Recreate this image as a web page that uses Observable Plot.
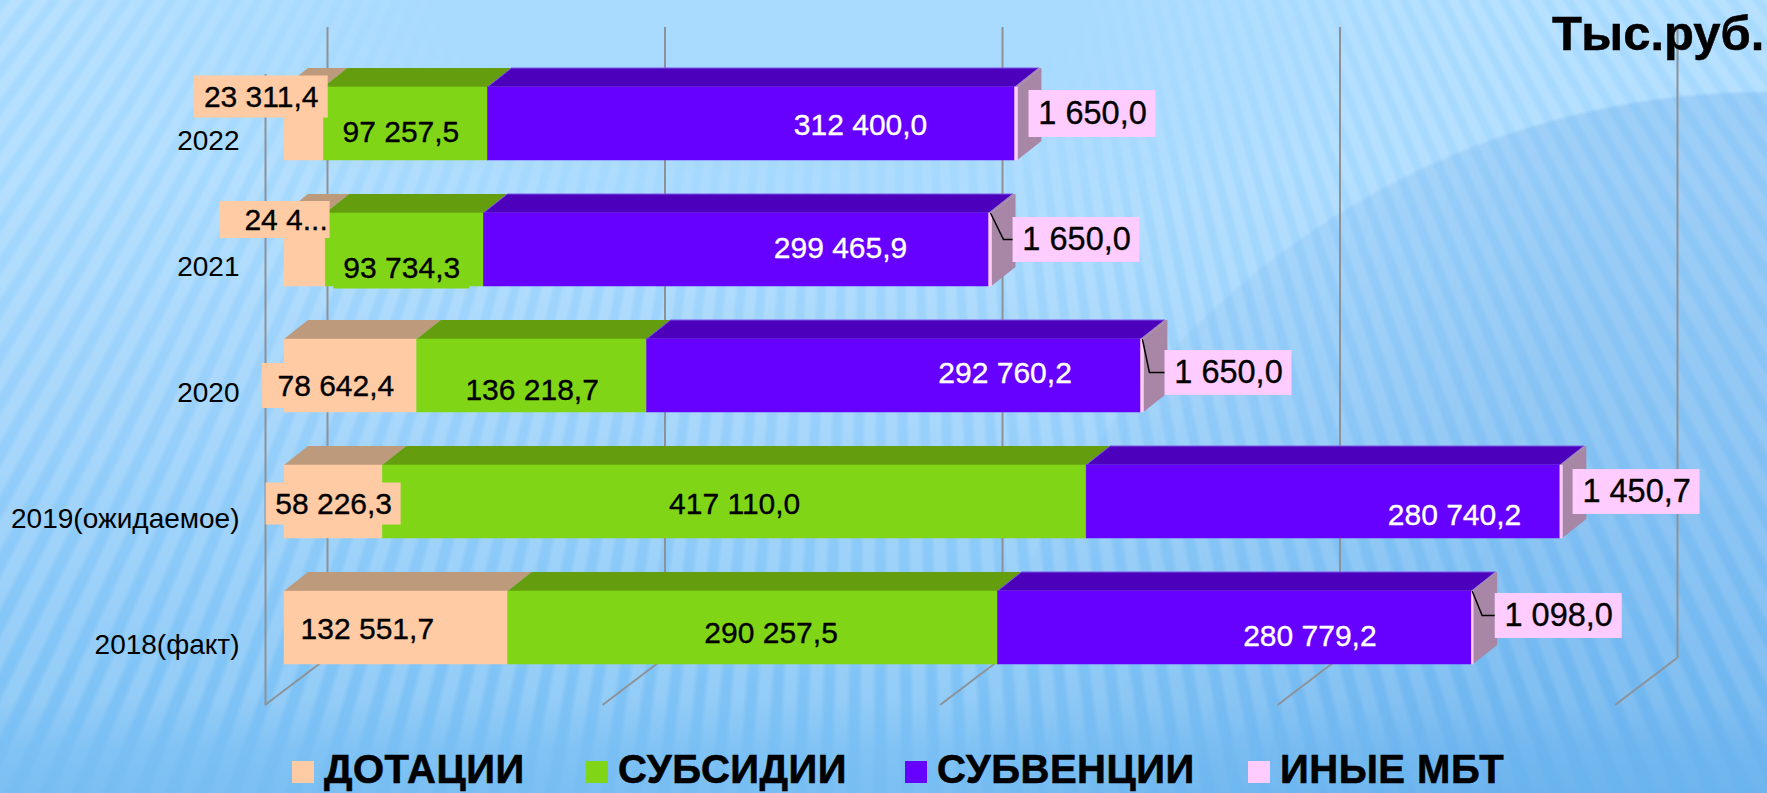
<!DOCTYPE html>
<html lang="ru">
<head>
<meta charset="utf-8">
<script src="https://cdn.jsdelivr.net/npm/d3@7"></script>
<script src="https://cdn.jsdelivr.net/npm/@observablehq/plot@0.6"></script>
<style>
html,body{margin:0;padding:0;overflow:hidden}
#stage{position:relative;width:1767px;height:793px;overflow:hidden;font-family:"Liberation Sans",sans-serif;
 background:linear-gradient(180deg,#a9dbff 0%,#a6d9fe 22%,#98d0fb 52%,#82c5f7 82%,#76bdf3 100%);}
.layer{position:absolute;left:0;top:0;width:1767px;height:793px}
#stripes{
 background:repeating-conic-gradient(from 150deg at 883px -1100px,
   rgba(255,255,255,.17) 0deg, rgba(255,255,255,.17) .30deg,
   rgba(255,255,255,0) .46deg, rgba(255,255,255,0) .66deg,
   rgba(255,255,255,.17) .82deg);
 -webkit-mask-image:linear-gradient(180deg,#000 0,#000 700px,rgba(0,0,0,.35) 750px,rgba(0,0,0,.25) 793px),radial-gradient(ellipse 700px 260px at 760px 0,rgba(0,0,0,0) 40%,#000 100%);
 -webkit-mask-composite:source-in;mask-composite:intersect;
 mask-image:linear-gradient(180deg,#000 0,#000 700px,rgba(0,0,0,.35) 750px,rgba(0,0,0,.25) 793px),radial-gradient(ellipse 700px 260px at 760px 0,rgba(0,0,0,0) 40%,#000 100%);
}
#arc{
 background:radial-gradient(circle 815px at 1767px 905px, rgba(60,140,220,.20) 0 99.5%, rgba(60,140,220,0) 100%);
 -webkit-mask-image:linear-gradient(100deg,rgba(0,0,0,0) 55%,#000 85%);
 mask-image:linear-gradient(100deg,rgba(0,0,0,0) 55%,#000 85%);
}
#title{position:absolute;left:1552px;top:-2px;font-size:49px;font-weight:bold;color:#000;white-space:nowrap;line-height:70px;-webkit-text-stroke:.5px #000}
#legend{position:absolute;left:0;top:745px;height:48px;width:1767px;font-size:40px;font-weight:bold;color:#000;white-space:nowrap;letter-spacing:.5px}
#legend .item{position:absolute;top:0;height:48px;display:flex;align-items:center}
#legend span{-webkit-text-stroke:.6px #000}
#legend i{display:block;width:22px;height:22px;margin-right:10px;position:relative;top:3px}
svg{position:absolute;left:0;top:0}
</style>
</head>
<body>
<div id="stage">
<div class="layer" id="stripes"></div>
<div class="layer" id="arc"></div>
<div id="chart"></div>
<div id="title">Тыс.руб.</div>
<div id="legend"></div>
</div>
<script>
const years = ["2022","2021","2020","2019(ожидаемое)","2018(факт)"];
const seriesNames = ["ДОТАЦИИ","СУБСИДИИ","СУБВЕНЦИИ","ИНЫЕ МБТ"];
const dotations = [23311.4, 24400, 78642.4, 58226.3, 132551.7];
const subsidies = [97257.5, 93734.3, 136218.7, 417110.0, 290257.5];
const subventions = [312400.0, 299465.9, 292760.2, 280740.2, 280779.2];
const otherMbt = [1650.0, 1650.0, 1650.0, 1450.7, 1098.0];
const gridTicks = [0, 200000, 400000, 600000, 800000];

const frontColors = ["#FFCBA4","#80D616","#6600FF","#FFCCFF"];
const topColors = ["#BE9A7D","#649E0F","#4C00BC","#A886A6"];
const legendLefts = [292, 586, 905, 1248];

// label placement relative to each bar segment: [dx, dy, box width, box height] (0 = no box)
const placement = {
  "ДОТАЦИИ": [[-43,-27,134,42],[-19,-30,110,37],[-15,10,147,45],[0,2,135,42],[-29,1,0,0]],
  "СУБСИДИИ": [[-5,8,0,0],[-3,18,136,42],[0,14,0,0],[0,2,0,0],[18,5,0,0]],
  "СУБВЕНЦИИ": [[109,1,0,0],[104,-2,0,0],[111,-3,0,0],[131,13,0,0],[75,8,0,0]],
  "ИНЫЕ МБТ": [[76,-10,127,47],[86,-10,127,45],[86,-3,127,45],[75,-10,127,45],[86,-12,127,45]]
};
const boxShift = {"ДОТАЦИИ|2021": -11};
const leaderMid = {"2021":13, "2020":7, "2018(факт)":10};

const seriesValues = [dotations, subsidies, subventions, otherMbt];
const fmt = v => v.toFixed(1).replace(".",",").replace(/\B(?=(\d{3})+(?!\d))/g," ");
const rows = [];
years.forEach((year,i)=>{
  let acc = 0;
  seriesNames.forEach((name,s)=>{
    const v = seriesValues[s][i];
    const [dx,dy,bw,bh] = placement[name][i];
    let label = fmt(v);
    if (s===0 && year==="2021") label = "24 4...";
    rows.push({year, name, s, value:v, x1:acc, x2:acc+v, cx:acc+v/2, label, dx, dy, bw, bh,
      bs: boxShift[name+"|"+year] || 0});
    acc += v;
  });
});

const DX = 24, DY = 19;
const gridColor = "#8d9298";

function floorLines(index, scales){
  const g = d3.create("svg:g").attr("stroke",gridColor).attr("stroke-width",2);
  for (const t of gridTicks) {
    g.append("line").attr("x1",scales.x(t)-19).attr("x2",scales.x(t)+43)
     .attr("y1",705).attr("y2",658);
  }
  return g.node();
}
function depthFaces(index, scales){
  const g = d3.create("svg:g");
  const h = scales.y.bandwidth();
  for (const r of rows) {
    const a = scales.x(r.x1), b = scales.x(r.x2), y = scales.y(r.year);
    g.append("polygon").attr("fill",topColors[r.s])
     .attr("stroke",r.s===2?"#7d55e8":"none").attr("stroke-width",1)
     .attr("points",[[a,y],[b,y],[b+DX,y-DY],[a+DX,y-DY]].join(" "));
  }
  for (const r of rows.filter(d=>d.s===3)) {
    const b = scales.x(r.x2), y = scales.y(r.year);
    g.append("polygon").attr("fill",topColors[3])
     .attr("points",[[b,y],[b+DX,y-DY],[b+DX,y+h-DY],[b,y+h]].join(" "));
  }
  return g.node();
}
function labelBoxes(index, scales){
  const g = d3.create("svg:g");
  const bw = scales.y.bandwidth();
  for (const r of rows.filter(d=>d.bw>0)) {
    const cx = scales.x(r.cx)+r.dx+r.bs, cy = scales.y(r.year)+bw/2+r.dy;
    g.append("rect").attr("x",cx-r.bw/2).attr("y",cy-r.bh/2)
     .attr("width",r.bw).attr("height",r.bh).attr("fill",frontColors[r.s]);
  }
  return g.node();
}
function leaders(index, scales){
  const g = d3.create("svg:g").attr("fill","none").attr("stroke","#000").attr("stroke-width",1.5);
  const bw = scales.y.bandwidth();
  for (const r of rows.filter(d=>d.s===3 && leaderMid[d.year]!==undefined)) {
    const x0 = scales.x(r.x2)-1, y0 = scales.y(r.year);
    const cy = y0+bw/2+r.dy, boxLeft = scales.x(r.cx)+r.dx-r.bw/2;
    g.append("polyline").attr("points",[[x0,y0],[x0+leaderMid[r.year],cy],[boxLeft,cy]].join(" "));
  }
  return g.node();
}
const place = (index, scales, values, dims, ctx, next, data) => {
  const X = Float64Array.from(values.x,(v,i)=>v+data[i].dx);
  const Y = Float64Array.from(values.y,(v,i)=>v+data[i].dy);
  return next(index, scales, {...values, x:X, y:Y}, dims, ctx);
};
const darkRows = rows.filter(d=>d.s<2), lightRows = rows.filter(d=>d.s===2), pinkRows = rows.filter(d=>d.s===3);
const textMark = (data, fill, fontSize) => Plot.text(data,{x:"cx", y:"year", text:"label", fill, fontSize,
  stroke:fill, strokeWidth:.35,
  render:(i,s,v,d,c,n)=>place(i,s,v,d,c,n,data)});

const chart = Plot.plot({
  width:1767, height:793,
  marginLeft:239, marginRight:0, marginTop:27, marginBottom:135,
  style:{background:"transparent",fontFamily:"Liberation Sans",overflow:"visible"},
  x:{domain:[0,800000], range:[284,1634], axis:null},
  y:{type:"band", domain:years, range:[60.25,690.25], paddingInner:0.4246, paddingOuter:0.2123, align:0.5, axis:null},
  color:{domain:seriesNames, range:frontColors},
  marks:[
    Plot.ruleX(gridTicks,{x:d=>d, dx:43, stroke:gridColor, strokeWidth:2}),
    Plot.ruleX([0],{x:d=>d, dx:-19, dy:47, stroke:gridColor, strokeWidth:2}),
    floorLines,
    Plot.axisY({anchor:"left", tickSize:0, tickPadding:0, label:null, fontSize:28, dy:17, fill:"#000"}),
    depthFaces,
    Plot.barX(rows,{x1:"x1", x2:"x2", y:"year", fill:"name", stroke:"name", strokeWidth:.5}),
    labelBoxes,
    leaders,
    textMark(darkRows,"#000",30),
    textMark(lightRows,"#fff",30),
    textMark(pinkRows,"#000",32.5)
  ]
});
document.getElementById("chart").appendChild(chart);

const legend = d3.select("#legend");
seriesNames.forEach((name,i)=>{
  const it = legend.append("div").attr("class","item").style("left",legendLefts[i]+"px");
  it.append("i").style("background",frontColors[i]);
  it.append("span").text(name);
});
</script>
</body>
</html>
